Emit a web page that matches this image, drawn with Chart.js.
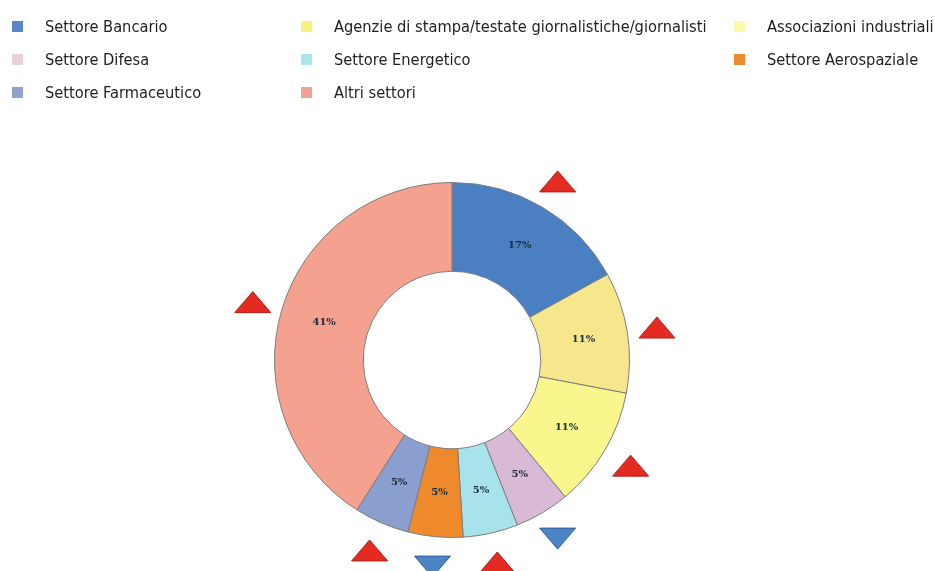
<!DOCTYPE html>
<html>
<head>
<meta charset="utf-8">
<script src="https://cdn.jsdelivr.net/npm/chart.js@4"></script>
<style>
  body { margin: 0; background: #fff; }
  #wrap { position: relative; width: 935px; height: 571px; overflow: hidden; }
  #chart { position: absolute; left: 0; top: 0; }
  .leg { position: absolute; font-family: "Liberation Sans Narrow", "Arial Narrow", "DejaVu Sans Condensed", sans-serif;
         font-size: 16.3px; color: #1e1e1e; white-space: nowrap; line-height: 20px; }
  .leg span.sw { position: absolute; width: 11px; height: 11px; left: 0; top: 4px; }
  .leg span.tx { position: absolute; left: 33px; top: 0; }
</style>
</head>
<body>
<div id="wrap">
  <canvas id="chart" width="935" height="571"></canvas>
  <div id="legend"></div>
</div>
<script>
const labels = ['Settore Bancario', 'Agenzie di stampa/testate giornalistiche/giornalisti', 'Associazioni industriali',
  'Settore Difesa', 'Settore Energetico', 'Settore Aerospaziale', 'Settore Farmaceutico', 'Altri settori'];
const shares = [17, 11, 11, 5, 5, 5, 5, 41];
const trend = ['up', 'up', 'up', 'down', 'up', 'down', 'up', 'up'];
const colors = ['#4a80c2', '#f6e68c', '#f8f68c', '#d8b9d6', '#a8e2ea', '#ee8a2c', '#8a9fcf', '#f4a190'];
const legendColors = ['#5a86c6', '#f7f27c', '#fafaa8', '#e9d0dc', '#a8e6ec', '#f08a30', '#8fa2d0', '#f4a092'];

// legend layout: 3 columns, filled in reading order like the original
const colX = [12, 301, 734];
const rowY = [17, 50, 83];
const legendEl = document.getElementById('legend');
labels.forEach((name, i) => {
  const d = document.createElement('div');
  d.className = 'leg';
  d.style.left = colX[i % 3] + 'px';
  d.style.top = rowY[Math.floor(i / 3)] + 'px';
  d.innerHTML = `<span class="sw" style="background:${legendColors[i]}"></span><span class="tx">${name}</span>`;
  legendEl.appendChild(d);
});

// percentage labels and trend triangles
const extras = {
  id: 'extras',
  afterDatasetsDraw(chart) {
    const ctx = chart.ctx;
    const meta = chart.getDatasetMeta(0);
    ctx.save();
    meta.data.forEach((arc, i) => {
      const p = arc.tooltipPosition();
      ctx.font = 'bold 10px "DejaVu Serif", serif';
      ctx.fillStyle = '#1c2a3a';
      ctx.textAlign = 'center';
      ctx.textBaseline = 'middle';
      ctx.fillText(shares[i] + '%', p.x, p.y);

      const mid = (arc.startAngle + arc.endAngle) / 2;
      const r = arc.outerRadius + 30;
      const x = arc.x + Math.cos(mid) * r;
      const y = arc.y + Math.sin(mid) * r;
      const w = 18, h = 10.5;
      ctx.beginPath();
      if (trend[i] === 'up') {
        ctx.moveTo(x - w, y + h); ctx.lineTo(x + w, y + h); ctx.lineTo(x, y - h);
        ctx.fillStyle = '#e42b22';
        ctx.strokeStyle = '#b81c16';
      } else {
        ctx.moveTo(x - w, y - h); ctx.lineTo(x + w, y - h); ctx.lineTo(x, y + h);
        ctx.fillStyle = '#4a84c6';
        ctx.strokeStyle = '#2e5f97';
      }
      ctx.closePath();
      ctx.fill();
      ctx.lineWidth = 1;
      ctx.stroke();
    });
    ctx.restore();
  }
};

new Chart(document.getElementById('chart'), {
  type: 'doughnut',
  data: {
    labels: labels,
    datasets: [{
      data: shares,
      backgroundColor: colors,
      borderColor: '#7d7d7d',
      borderWidth: 1
    }]
  },
  options: {
    responsive: false,
    animation: false,
    cutout: '50%',
    layout: { padding: { top: 182, bottom: 33, left: 0, right: 31 } },
    plugins: { legend: { display: false }, tooltip: { enabled: false } }
  },
  plugins: [extras]
});
</script>
</body>
</html>
